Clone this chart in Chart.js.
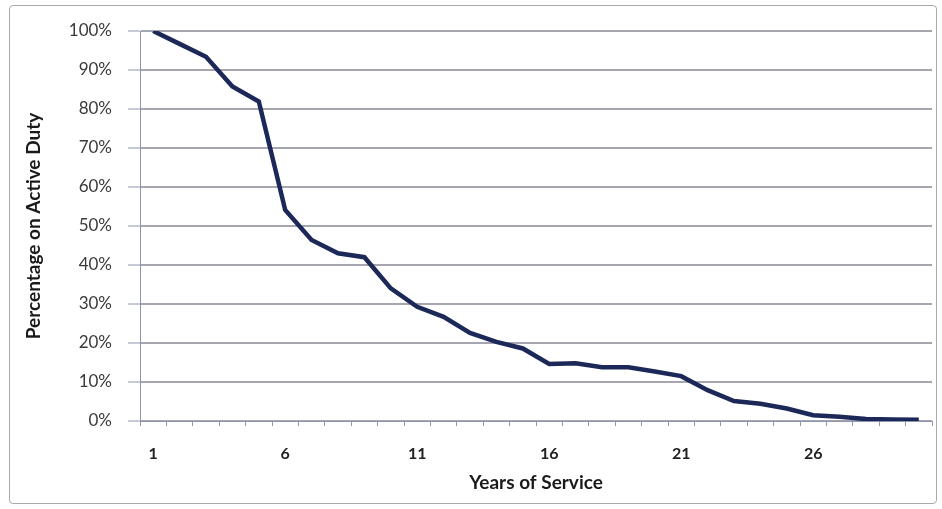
<!DOCTYPE html>
<html>
<head>
<meta charset="utf-8">
<script src="https://cdn.jsdelivr.net/npm/chart.js@4/dist/chart.umd.min.js"></script>
<style>
    html, body { margin: 0; padding: 0; background: #fff; }
    #wrap { position: relative; width: 942px; height: 509px; }
    #frame { position: absolute; left: 9px; top: 5px; width: 928px; height: 499px; border: 1px solid #a9a9a9; border-radius: 4px; box-sizing: border-box; }
    canvas { position: absolute; left: 0; top: 0; }
</style>
</head>
<body>
<div id="wrap">
    <div id="frame"></div>
    <canvas id="chart" width="942" height="509"></canvas>
</div>
<script>
// Años de servicio (1..30) y porcentaje que sigue en servicio activo
const anios = [1, 2, 3, 4, 5, 6, 7, 8, 9, 10, 11, 12, 13, 14, 15, 16, 17, 18, 19, 20, 21, 22, 23, 24, 25, 26, 27, 28, 29, 30];
const porcentaje = [100, 96.7, 93.4, 85.8, 81.9, 54.1, 46.4, 43, 42, 34, 29.3, 26.7, 22.6, 20.3, 18.6, 14.6, 14.8, 13.8, 13.8, 12.7, 11.5, 7.9, 5.1, 4.4, 3.2, 1.5, 1.1, 0.5, 0.4, 0.3];
const ticksY = [0, 10, 20, 30, 40, 50, 60, 70, 80, 90, 100];

const fuente = 'Lato, "Open Sans", sans-serif';

const ctx = document.getElementById('chart').getContext('2d');
new Chart(ctx, {
    type: 'line',
    data: {
        labels: anios,
        datasets: [{
            data: porcentaje,
            borderColor: '#1b2858',
            borderWidth: 4.5,
            pointRadius: 0,
            tension: 0,
            fill: false
        }]
    },
    options: {
        responsive: false,
        animation: false,
        layout: { padding: { left: 0, right: 10, top: 31, bottom: 0 } },
        plugins: {
            legend: { display: false },
            tooltip: { enabled: false }
        },
        scales: {
            x: {
                offset: true,
                grid: { drawOnChartArea: false, offset: true, color: '#8e95b0', tickLength: 5, tickWidth: 1 },
                border: { color: '#8e95b0', width: 1 },
                ticks: {
                    autoSkip: false,
                    maxRotation: 0,
                    color: '#222',
                    font: { family: fuente, size: 16, weight: 'bold' },
                    padding: 18,
                    callback: function (value, index) {
                        return index % 5 === 0 ? anios[index] : '';
                    }
                },
                title: {
                    display: true,
                    text: 'Years of Service',
                    color: '#1a1a1a',
                    font: { family: fuente, size: 19, weight: 'bold' },
                    padding: { top: 0, bottom: 15 }
                },
                afterFit: function (scale) { scale.height = 88; }
            },
            y: {
                min: 0,
                max: 100,
                afterBuildTicks: function (scale) {
                    scale.ticks = ticksY.map(v => ({ value: v }));
                },
                grid: { color: '#a6a6b0', lineWidth: 2, tickLength: 12, tickColor: '#8e95b0', tickWidth: 1 },
                border: { color: '#8e95b0', width: 1 },
                ticks: {
                    color: '#3a3a3a',
                    font: { family: fuente, size: 17 },
                    padding: 16,
                    callback: function (value) { return value + '%'; }
                },
                title: {
                    display: true,
                    text: 'Percentage on Active Duty',
                    color: '#1a1a1a',
                    font: { family: fuente, size: 19, weight: 'bold' },
                    padding: { top: 22, bottom: 0 }
                },
                afterFit: function (scale) { scale.width = 140; }
            }
        }
    }
});
</script>
</body>
</html>
